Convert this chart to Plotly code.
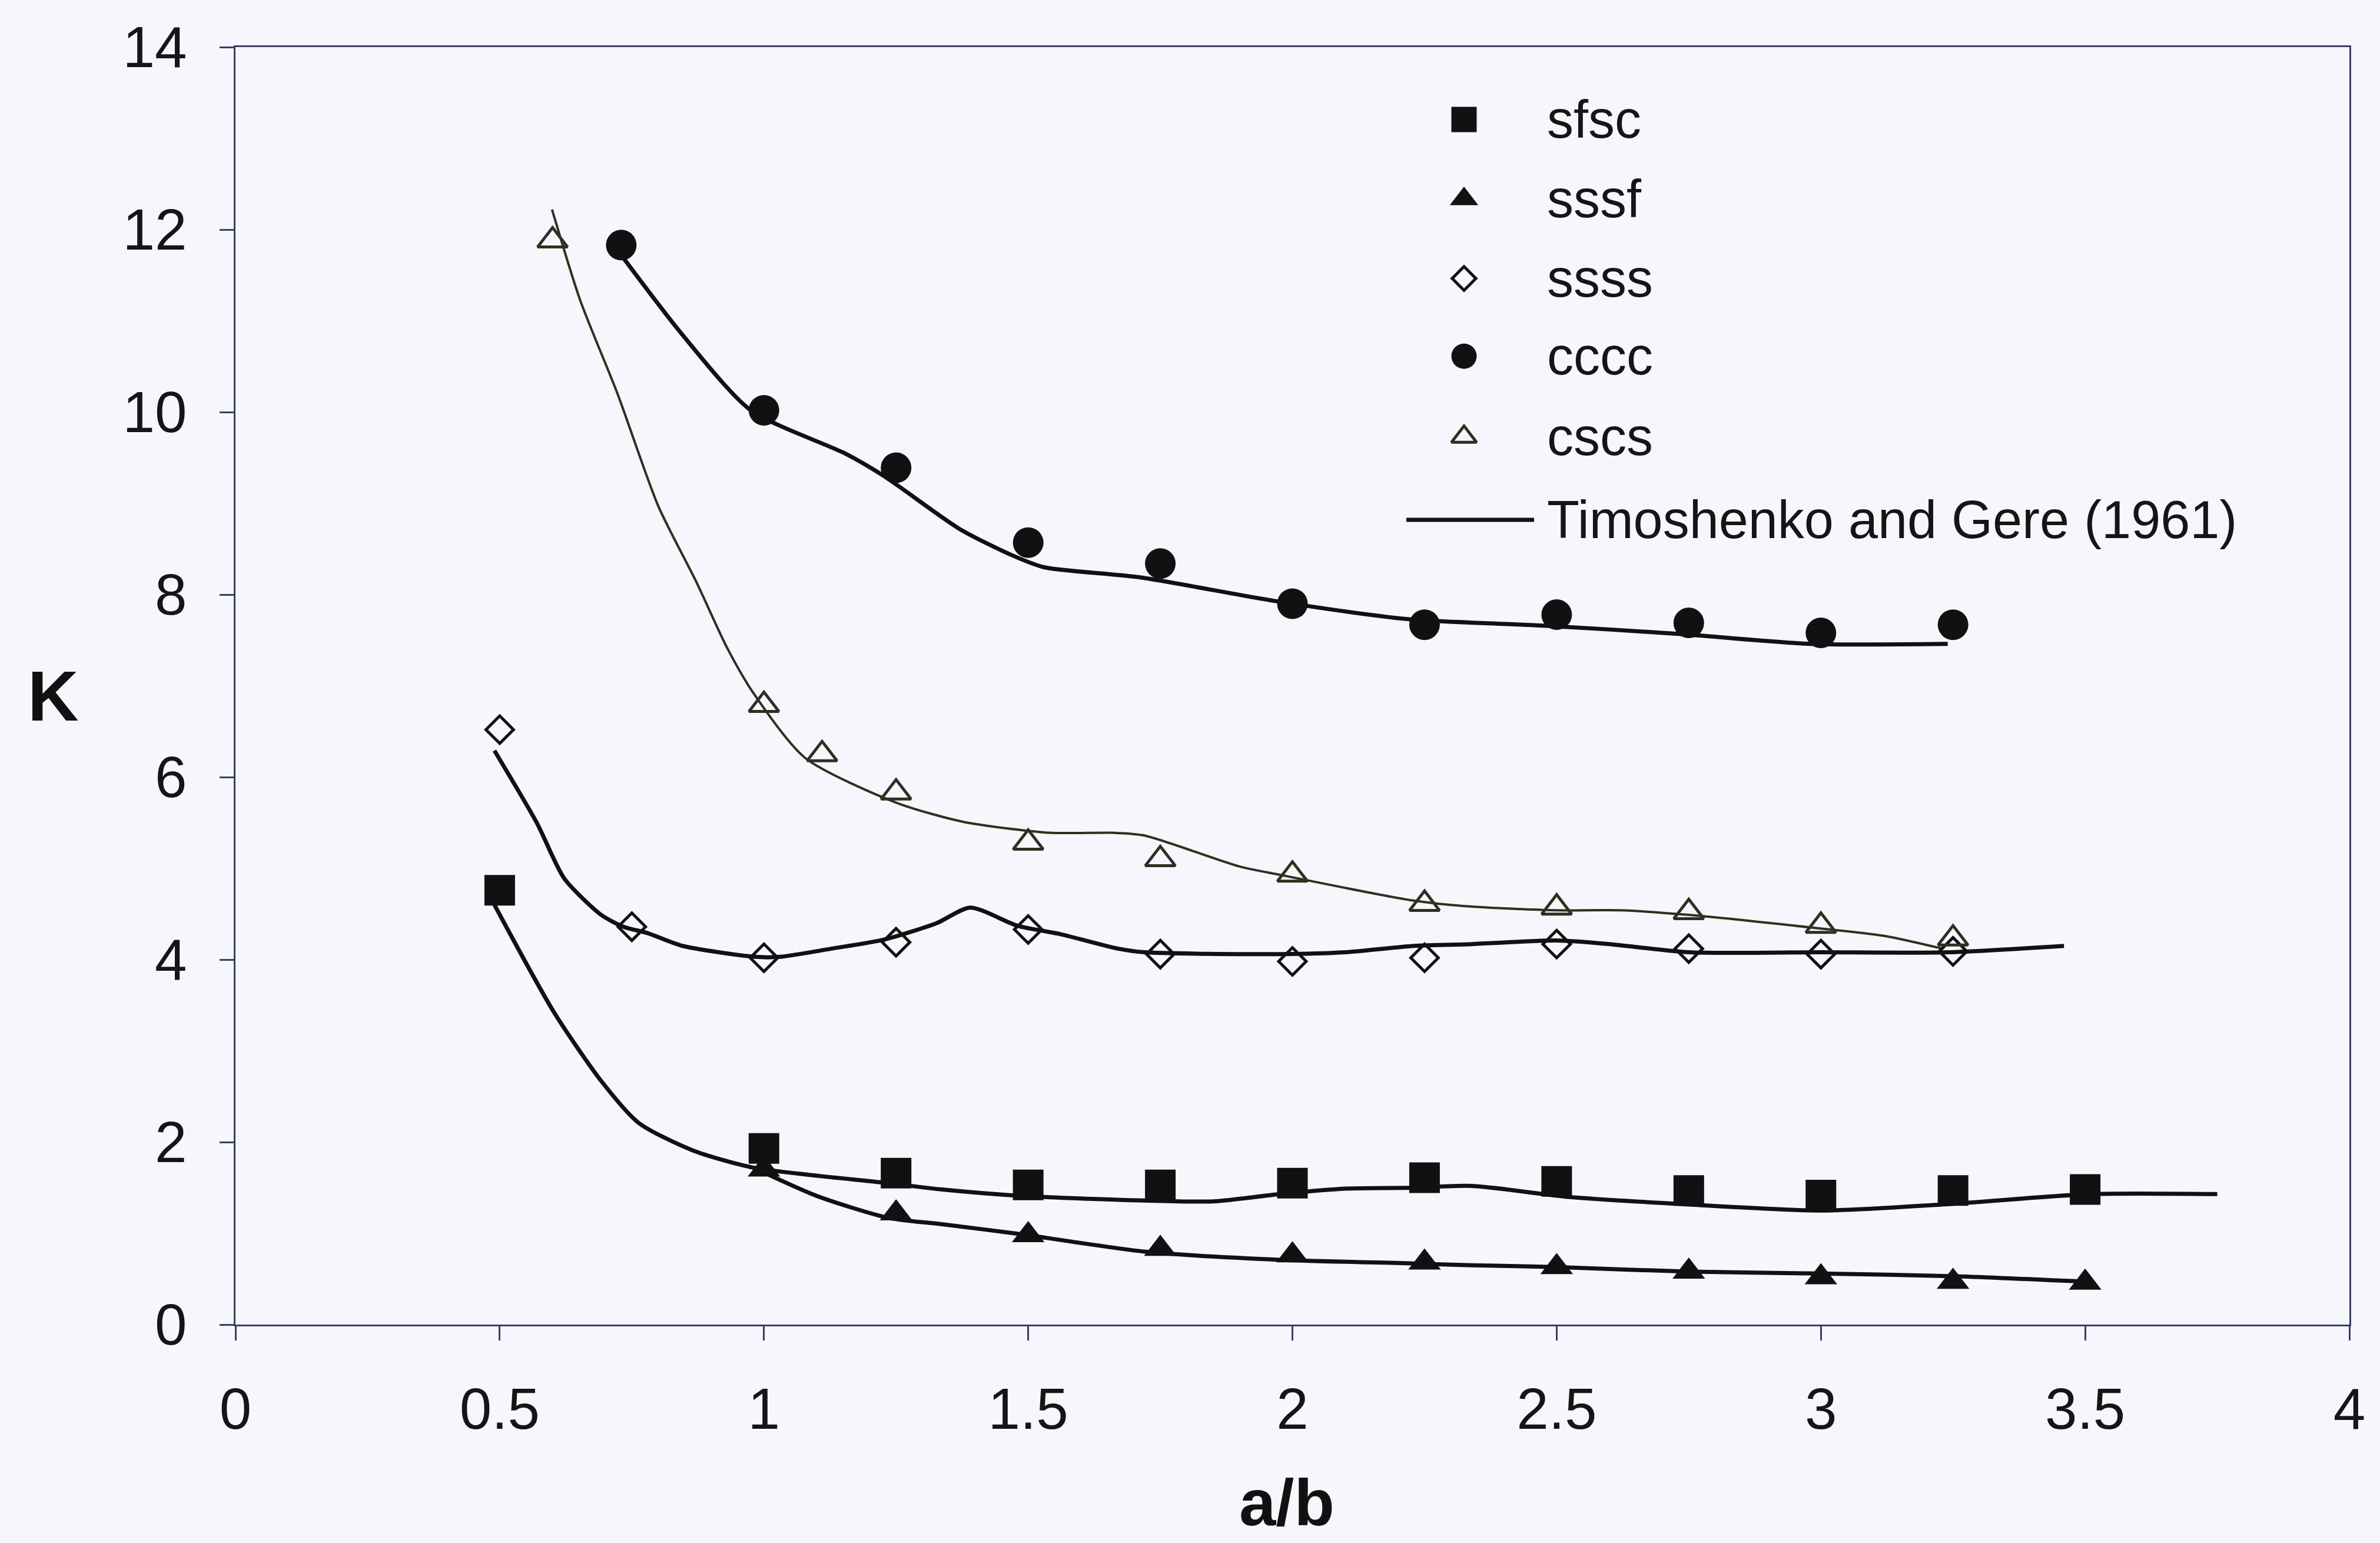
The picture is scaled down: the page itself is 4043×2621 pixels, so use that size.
import plotly.graph_objects as go

# ---------------- data ----------------
sfsc_x = [0.5, 1, 1.25, 1.5, 1.75, 2, 2.25, 2.5, 2.75, 3, 3.25, 3.5]
sfsc_y = [4.76, 1.93, 1.66, 1.53, 1.53, 1.55, 1.61, 1.57, 1.47, 1.42, 1.47, 1.48]

sssf_x = [1, 1.25, 1.5, 1.75, 2, 2.25, 2.5, 2.75, 3, 3.25, 3.5]
sssf_y = [1.70, 1.22, 0.98, 0.83, 0.76, 0.68, 0.63, 0.58, 0.52, 0.47, 0.46]

ssss_x = [0.5, 0.75, 1, 1.25, 1.5, 1.75, 2, 2.25, 2.5, 2.75, 3, 3.25]
ssss_y = [6.52, 4.36, 4.02, 4.19, 4.33, 4.06, 3.98, 4.02, 4.17, 4.12, 4.06, 4.09]

cccc_x = [0.73, 1, 1.25, 1.5, 1.75, 2, 2.25, 2.5, 2.75, 3, 3.25]
cccc_y = [11.83, 10.02, 9.39, 8.57, 8.34, 7.90, 7.67, 7.78, 7.69, 7.58, 7.67]

cscs_x = [0.6, 1, 1.11, 1.25, 1.5, 1.75, 2, 2.25, 2.5, 2.75, 3, 3.25]
cscs_y = [11.88, 6.79, 6.25, 5.83, 5.28, 5.10, 4.93, 4.61, 4.57, 4.52, 4.37, 4.23]

# Timoshenko and Gere (1961) curves
tg_sfsc_x = [0.49, 0.603, 0.692, 0.763, 0.865, 0.98, 1.235, 1.337, 1.487, 1.72, 1.85,
             1.976, 2.10, 2.23, 2.34, 2.52, 2.74, 3.0, 3.24, 3.51, 3.75]
tg_sfsc_y = [4.60, 3.42, 2.67, 2.21, 1.91, 1.72, 1.55, 1.48, 1.41, 1.36, 1.35,
             1.43, 1.49, 1.50, 1.52, 1.40, 1.32, 1.25, 1.32, 1.43, 1.43]

tg_sssf_x = [0.98, 1.10, 1.235, 1.337, 1.487, 1.72, 1.976, 2.23, 2.34, 2.5, 2.75, 3.0, 3.25, 3.5]
tg_sssf_y = [1.72, 1.41, 1.17, 1.10, 0.99, 0.80, 0.71, 0.67, 0.65, 0.63, 0.58, 0.56, 0.53, 0.47]

tg_ssss_x = [0.49, 0.571, 0.622, 0.692, 0.734, 0.78, 0.846, 0.984, 1.03, 1.128, 1.228, 1.327,
             1.39, 1.48, 1.56, 1.67, 1.72, 1.976, 2.10, 2.23, 2.34, 2.5, 2.6, 2.75, 3.0, 3.24, 3.46]
tg_ssss_y = [6.29, 5.49, 4.89, 4.49, 4.36, 4.29, 4.15, 4.03, 4.03, 4.12, 4.22, 4.40,
             4.57, 4.37, 4.28, 4.12, 4.08, 4.06, 4.08, 4.15, 4.17, 4.21, 4.17, 4.08, 4.08, 4.08, 4.15]

tg_cccc_x = [0.73, 0.844, 0.975, 1.156, 1.227, 1.37, 1.47, 1.53, 1.71, 1.967, 2.22, 2.475, 2.73, 2.98, 3.24]
tg_cccc_y = [11.72, 10.86, 10.02, 9.54, 9.30, 8.72, 8.43, 8.30, 8.19, 7.93, 7.73, 7.66, 7.57, 7.46, 7.46]

tg_cscs_x = [0.599, 0.652, 0.723, 0.80, 0.872, 0.93, 0.979, 1.078, 1.25, 1.377, 1.54, 1.66, 1.72,
             1.90, 1.976, 2.225, 2.34, 2.5, 2.62, 2.75, 3.0, 3.12, 3.23]
tg_cscs_y = [12.22, 11.23, 10.20, 8.97, 8.14, 7.42, 6.93, 6.21, 5.72, 5.51, 5.39, 5.39, 5.36,
             5.02, 4.93, 4.65, 4.58, 4.54, 4.54, 4.49, 4.34, 4.26, 4.12]

x_ticks = [0, 0.5, 1, 1.5, 2, 2.5, 3, 3.5, 4]
x_tick_labels = ["0", "0.5", "1", "1.5", "2", "2.5", "3", "3.5", "4"]
y_ticks = [0, 2, 4, 6, 8, 10, 12, 14]

legend_names = ["sfsc", "sssf", "ssss", "cccc", "cscs"]
line_name = "Timoshenko and Gere (1961)"

# ---------------- styling ----------------
FONT = "Liberation Sans, Arial, sans-serif"
BG = "#f5f7fc"
AXIS = "#3d3d60"
BLACK = "#111111"
OLIVE = "#2c3120"
LW = 7
W, H = 4043, 2621
ML, MR, MT, MB = 400, 52, 80, 371
PW, PH = W - ML - MR, H - MT - MB


def fx(px):
    return (px - ML) / PW


def fy(py):
    return (H - MB - py) / PH


fig = go.Figure()

# theory curves (drawn first, beneath markers)
curves = [(tg_sfsc_x, tg_sfsc_y, BLACK, LW),
          (tg_sssf_x, tg_sssf_y, BLACK, LW),
          (tg_ssss_x, tg_ssss_y, BLACK, LW),
          (tg_cccc_x, tg_cccc_y, BLACK, LW),
          (tg_cscs_x, tg_cscs_y, OLIVE, 4)]
for cx, cy, col, w in curves:
    fig.add_trace(go.Scatter(x=cx, y=cy, mode="lines",
                             line=dict(color=col, width=w, shape="spline", smoothing=0.7),
                             showlegend=False, hoverinfo="skip"))

# measured series
markers = {
    "sfsc": dict(symbol="square", size=52, color=BLACK),
    "sssf": dict(symbol="triangle-up", size=48, color=BLACK),
    "ssss": dict(symbol="diamond-open", size=36, color=BLACK, line=dict(width=5, color=BLACK)),
    "cccc": dict(symbol="circle", size=52, color=BLACK),
    "cscs": dict(symbol="triangle-up-open", size=44, color=OLIVE, line=dict(width=5, color=OLIVE)),
}
data = {"sfsc": (sfsc_x, sfsc_y), "sssf": (sssf_x, sssf_y), "ssss": (ssss_x, ssss_y),
        "cccc": (cccc_x, cccc_y), "cscs": (cscs_x, cscs_y)}
for name in legend_names:
    sx, sy = data[name]
    fig.add_trace(go.Scatter(x=sx, y=sy, mode="markers", name=name, marker=markers[name],
                             showlegend=False))

# ---- legend (drawn on an invisible overlay axis in plot-fraction units) ----
legend_rows_px = [203, 338, 473, 605, 742, 883]
legend_sym_px = 2487
legend_text_px = 2626
LEG_FONT = 90
legend_markers = {
    "sfsc": dict(symbol="square", size=43, color=BLACK),
    "sssf": dict(symbol="triangle-up", size=42, color=BLACK),
    "ssss": dict(symbol="diamond-open", size=31, color=BLACK, line=dict(width=5, color=BLACK)),
    "cccc": dict(symbol="circle", size=43, color=BLACK),
    "cscs": dict(symbol="triangle-up-open", size=37, color=OLIVE, line=dict(width=5, color=OLIVE)),
}
annotations = []
for name, rpx in zip(legend_names, legend_rows_px[:5]):
    fig.add_trace(go.Scatter(x=[fx(legend_sym_px)], y=[fy(rpx)], mode="markers",
                             marker=legend_markers[name], xaxis="x2", yaxis="y2",
                             showlegend=False, hoverinfo="skip"))
    annotations.append(dict(text=name, xref="paper", yref="paper",
                            x=fx(legend_text_px), y=fy(rpx), xanchor="left", yanchor="middle",
                            showarrow=False, font=dict(size=LEG_FONT, family=FONT, color="#151515")))
fig.add_trace(go.Scatter(x=[fx(2389), fx(2606)], y=[fy(legend_rows_px[5])] * 2, mode="lines",
                         line=dict(color=BLACK, width=LW), xaxis="x2", yaxis="y2",
                         showlegend=False, hoverinfo="skip"))
annotations.append(dict(text=line_name, xref="paper", yref="paper",
                        x=fx(legend_text_px), y=fy(legend_rows_px[5]),
                        xanchor="left", yanchor="middle", showarrow=False,
                        font=dict(size=LEG_FONT, family=FONT, color="#151515")))

# axis titles
annotations.append(dict(text="<b>K</b>", xref="paper", yref="paper",
                        x=fx(90), y=fy(1182), xanchor="center", yanchor="middle",
                        showarrow=False, font=dict(size=120, family=FONT, color="#111111")))
annotations.append(dict(text="<b>a/b</b>", xref="paper", yref="paper",
                        x=fx(2186), y=fy(2552), xanchor="center", yanchor="middle",
                        showarrow=False, font=dict(size=112, family=FONT, color="#111111")))

fig.update_layout(
    width=W, height=H,
    margin=dict(l=ML, r=MR, t=MT, b=MB),
    paper_bgcolor=BG, plot_bgcolor=BG,
    font=dict(family=FONT, color="#151515"),
    showlegend=False,
    xaxis=dict(range=[0, 4], tickvals=x_ticks, ticktext=x_tick_labels,
               showgrid=False, zeroline=False, showline=True, linecolor=AXIS, linewidth=3,
               mirror=True, ticks="outside", ticklen=24, tickwidth=3, tickcolor=AXIS,
               tickfont=dict(size=98, family=FONT, color="#151515"),
               ticklabelstandoff=32),
    yaxis=dict(range=[0, 14], tickvals=y_ticks,
               showgrid=False, zeroline=False, showline=True, linecolor=AXIS, linewidth=3,
               mirror=True, ticks="outside", ticklen=24, tickwidth=3, tickcolor=AXIS,
               tickfont=dict(size=98, family=FONT, color="#151515"),
               ticklabelstandoff=36),
    xaxis2=dict(range=[0, 1], overlaying="x", visible=False, fixedrange=True),
    yaxis2=dict(range=[0, 1], overlaying="y", visible=False, fixedrange=True),
    annotations=annotations,
)

fig.write_html("out.html")
